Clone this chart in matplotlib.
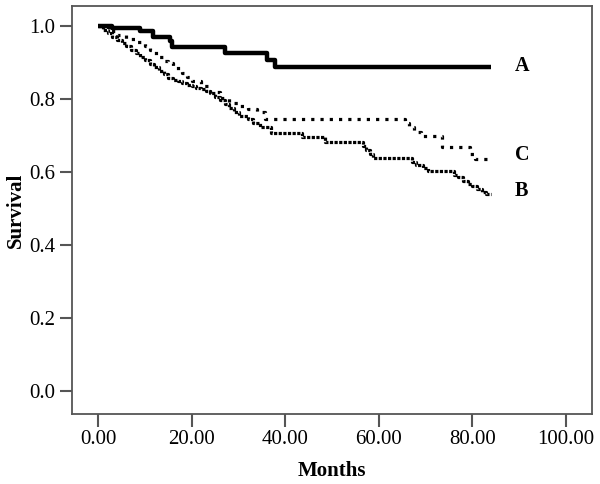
import numpy as np
import matplotlib.pyplot as plt

plt.rcParams['font.family'] = ['Liberation Serif', 'DejaVu Serif']

# Kaplan-Meier style step data
t_a = [0, 3, 9, 11.7, 15.4, 15.8, 27.1, 36.1, 37.8, 84]
s_a = [1.0, 0.995, 0.985, 0.97, 0.959, 0.942, 0.926, 0.907, 0.886, 0.886]

t_b = [0, 1, 2, 3, 4, 5, 6, 7, 8, 9, 10, 11, 12, 13, 14, 15, 16, 17, 18, 19,
       20, 21, 22, 23, 24, 25, 26, 27, 28, 29, 30, 32, 33, 34.5, 37, 43.5,
       48.5, 56.5, 57.3, 58, 58.7, 67, 68, 69.5, 70.5, 76, 77, 78, 79, 80,
       81, 82, 83, 84]
s_b = [1.0, 0.99, 0.98, 0.97, 0.96, 0.953, 0.944, 0.935, 0.926, 0.916,
       0.906, 0.896, 0.886, 0.876, 0.867, 0.857, 0.853, 0.848, 0.843, 0.839,
       0.835, 0.831, 0.826, 0.821, 0.815, 0.806, 0.797, 0.787, 0.776, 0.764,
       0.752, 0.745, 0.735, 0.723, 0.707, 0.696, 0.682, 0.67, 0.66, 0.648,
       0.637, 0.628, 0.62, 0.61, 0.603, 0.592, 0.585, 0.575, 0.567, 0.56,
       0.552, 0.545, 0.54, 0.54]

t_c = [0, 2, 4, 6, 8, 10, 11, 12, 13, 14, 15, 16, 17, 18, 19, 20, 22, 24,
       26, 28, 30, 32, 34, 35.7, 65.5, 66.5, 67.5, 69, 73.5, 79.5, 80.5, 84]
s_c = [1.0, 0.985, 0.975, 0.965, 0.955, 0.945, 0.935, 0.925, 0.915, 0.905,
       0.897, 0.89, 0.88, 0.87, 0.86, 0.85, 0.835, 0.818, 0.803, 0.79, 0.78,
       0.772, 0.763, 0.745, 0.735, 0.723, 0.71, 0.698, 0.668, 0.65, 0.636,
       0.636]

labels = ['A', 'B', 'C']
label_y = [0.89, 0.548, 0.647]

fig = plt.figure(figsize=(6, 4.84), dpi=100)
ax = fig.add_axes([0.12, 0.145, 0.867, 0.843])

ax.step(t_a, s_a, where='post', color='black', lw=3.2, solid_capstyle='butt')
ax.step(t_b, s_b, where='post', color='black', lw=2.3,
        linestyle=(0, (1, 0.45)), dash_capstyle='butt')
ax.step(t_c, s_c, where='post', color='black', lw=2.3,
        linestyle=(0, (1, 1.9)), dash_capstyle='butt')

for lab, yy in zip(labels, label_y):
    ax.text(89, yy, lab, fontsize=14.5, fontweight='bold', va='center', ha='left')

ax.set_xlim(-5.6, 105.6)
ax.set_ylim(-0.063, 1.055)
ax.set_xticks(np.arange(0, 101, 20))
ax.set_xticklabels(['%.2f' % v for v in np.arange(0, 101, 20)])
ax.set_yticks(np.arange(0, 1.01, 0.2))
ax.set_yticklabels(['%.1f' % v for v in np.arange(0, 1.01, 0.2)])

for sp in ax.spines.values():
    sp.set_color('#555555')
    sp.set_linewidth(1.3)
ax.tick_params(length=9, width=1.5, color='#555555', labelsize=15, pad=3)

ax.set_xlabel('Months', fontsize=15, fontweight='bold', labelpad=8)
ax.set_ylabel('Survival', fontsize=15, fontweight='bold', labelpad=2)

fig.savefig('out.png', dpi=100)
